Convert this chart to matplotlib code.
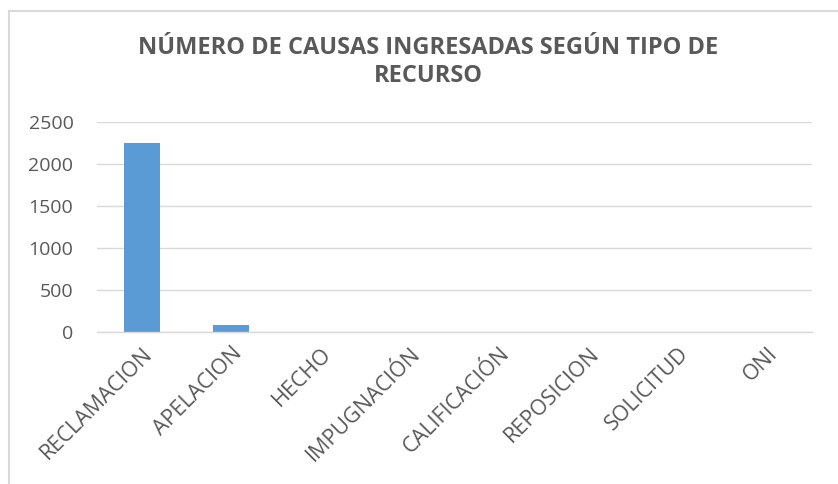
import matplotlib
matplotlib.use("Agg")
import matplotlib.pyplot as plt
from matplotlib.lines import Line2D

categories = ["RECLAMACION", "APELACION", "HECHO", "IMPUGNACIÓN", "CALIFICACIÓN",
              "REPOSICION", "SOLICITUD", "ONI"]
values = [2250, 85, 3, 4, 3, 1, 1, 1]
yticks = [0, 500, 1000, 1500, 2000, 2500]
title = "NÚMERO DE CAUSAS INGRESADAS SEGÚN TIPO DE\nRECURSO"

plt.rcParams['font.family'] = ['Open Sans', 'DejaVu Sans']
txt = "#595959"

fig = plt.figure(figsize=(8.38, 4.84), dpi=100)
ax = fig.add_axes([97/838, 1-332/484, (812-97)/838, (332-122)/484])

x = list(range(len(categories)))
ax.bar(x, values, width=0.4, color="#5B9BD5", zorder=3)
ax.set_xlim(-0.5, len(categories)-0.5)
ax.set_ylim(0, 2500)
ax.set_yticks(yticks)
ax.set_yticklabels([str(v) for v in yticks], fontsize=14, color=txt)
ax.set_xticks(x)
ax.set_xticklabels(categories, rotation=45, ha="right", rotation_mode="anchor",
                   fontsize=15.5, color=txt)
ax.tick_params(axis="both", length=0)
ax.tick_params(axis="y", pad=17)
ax.tick_params(axis="x", pad=8)
ax.grid(axis="y", color="#D9D9D9", linewidth=1, zorder=0)
for s in ["top", "right", "left"]:
    ax.spines[s].set_visible(False)
ax.spines["bottom"].set_color("#D9D9D9")
ax.spines["bottom"].set_linewidth(1)
ax.spines["bottom"].set_zorder(4)

fig.text(428/838, 1-62/484, title, ha="center", va="center", fontsize=17,
         fontweight="bold", color=txt, linespacing=1.25)

# chart border (only top and left visible in the cropped reference)
fig.add_artist(Line2D([9/838, 1], [1-11/484]*2, color="#D9D9D9", linewidth=1.5,
                      transform=fig.transFigure))
fig.add_artist(Line2D([9/838]*2, [0, 1-11/484], color="#D9D9D9", linewidth=1.5,
                      transform=fig.transFigure))

fig.savefig("out.png", dpi=100)
